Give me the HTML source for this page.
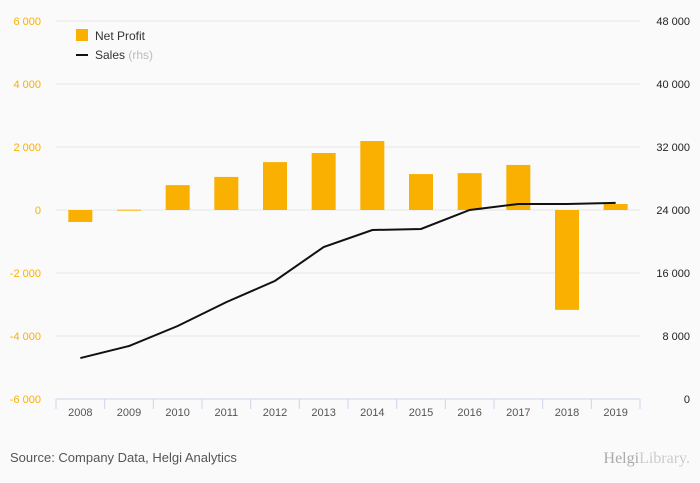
<!DOCTYPE html>
<html><head><meta charset="utf-8"><style>
body{margin:0;background:#fafafa;font-family:"Liberation Sans",sans-serif;}
svg{display:block}
</style></head><body>
<svg id="c" width="700" height="483" font-family="Liberation Sans, sans-serif">
<rect width="700" height="483" fill="#fafafa"/>
<g id="grid"></g><g id="bars"></g><g id="line"></g><g id="axes"></g>
<g>
<rect x="76" y="29" width="12" height="12" fill="#f9b000"/>
<text x="95" y="40" font-size="12" fill="#333">Net Profit</text>
<line x1="76" y1="55" x2="88" y2="55" stroke="#111" stroke-width="2"/>
<text x="95" y="59" font-size="12" fill="#333">Sales <tspan fill="#bbb">(rhs)</tspan></text>
</g>
<text x="10" y="462" font-size="13" fill="#555">Source: Company Data, Helgi Analytics</text>
<text x="690" y="463" font-size="16" fill="#aaa" text-anchor="end" font-family="Liberation Serif, serif">Helgi<tspan fill="#ccc">Library.</tspan></text>
</svg>
<script>
const years=["2008","2009","2010","2011","2012","2013","2014","2015","2016","2017","2018","2019"];
const netProfit=[-380,10,790,1050,1520,1810,2190,1140,1170,1430,-3170,190];
const sales=[5200,6730,9270,12300,15000,19300,21460,21590,24000,24760,24760,24900];
const leftTicks=[-6000,-4000,-2000,0,2000,4000,6000];
const rightTicks=[0,8000,16000,24000,32000,40000,48000];
const NS="http://www.w3.org/2000/svg";
const x0=56,x1=640,yTop=21,yBot=399,bw=(x1-x0)/years.length;
const yL=v=>yBot-(v+6000)/12000*(yBot-yTop);
const yR=v=>yBot-v/48000*(yBot-yTop);
const xC=i=>x0+bw*(i+0.5);
const fmt=v=>{const s=Math.abs(v).toString().replace(/\B(?=(\d{3})+(?!\d))/g," ");return (v<0?"-":"")+s;};
function mk(tag,attrs,parent,txt){const e=document.createElementNS(NS,tag);for(const k in attrs)e.setAttribute(k,attrs[k]);if(txt!==undefined)e.textContent=txt;document.getElementById(parent).appendChild(e);return e;}
leftTicks.forEach((t,i)=>{
 const y=yL(t);
 if(t!==-6000){const g=mk("line",{x1:x0,x2:x1,y1:y,y2:y,stroke:"#e6e6e6"},"grid");
 
 }
 const l=mk("text",{x:41,y:y+4,"font-size":11,fill:"#f9b000","text-anchor":"end"},"axes",fmt(t));
 
 
});
rightTicks.forEach(t=>{
 const r=mk("text",{x:690,y:yR(t)+4,"font-size":11,fill:"#222","text-anchor":"end"},"axes",fmt(t));
 
 
});
const ax=mk("line",{x1:x0,x2:x1,y1:yBot,y2:yBot,stroke:"#ccd6eb"},"axes");


for(let i=0;i<=years.length;i++){
 const tk=mk("line",{x1:x0+bw*i,x2:x0+bw*i,y1:yBot,y2:yBot+10,stroke:"#ccd6eb"},"axes");
 
 
}
years.forEach((yr,i)=>{
 const t=mk("text",{x:xC(i),y:yBot+17,"font-size":11,fill:"#555","text-anchor":"middle"},"axes",yr);
 
 
 const v=netProfit[i],a=yL(0),b=yL(v);
 const r=mk("rect",{x:xC(i)-12,width:24,y:Math.min(a,b),height:Math.max(1,Math.abs(a-b)),fill:"#f9b000"},"bars");
 
 
});
const p=mk("polyline",{points:sales.map((v,i)=>xC(i)+","+yR(v)).join(" "),fill:"none",stroke:"#111","stroke-width":2},"line");


</script>
</body></html>
